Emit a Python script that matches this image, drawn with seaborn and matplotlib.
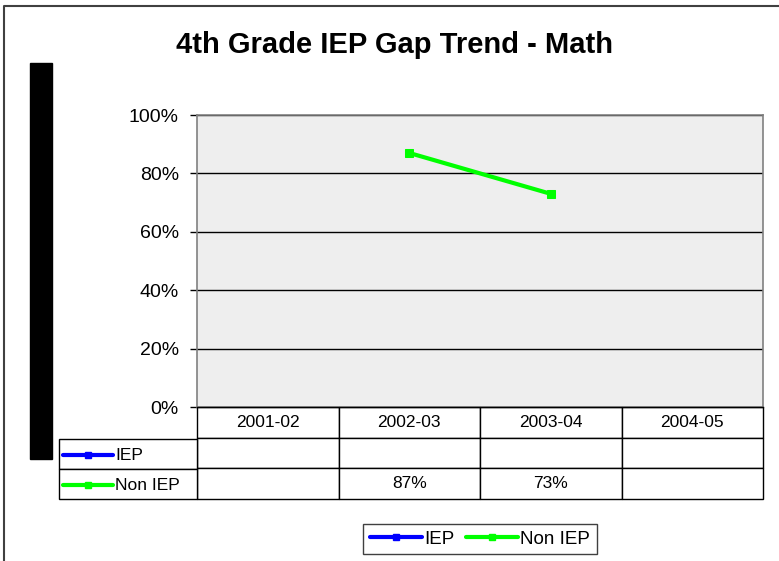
import numpy as np
import pandas as pd
import matplotlib
matplotlib.use('Agg')
import matplotlib.pyplot as plt
import seaborn as sns
from matplotlib.lines import Line2D
from matplotlib.patches import Rectangle
from matplotlib.ticker import PercentFormatter

# data (NaN = no value)
years = ['2001-02', '2002-03', '2003-04', '2004-05']
iep = [np.nan, np.nan, np.nan, np.nan]
non_iep = [np.nan, 87, 73, np.nan]
series_names = ['IEP', 'Non IEP']
series_colors = ['#0000FF', '#00FF00']


def pct(v):
    return '' if np.isnan(v) else '{:.0f}%'.format(v)


def main():
    sns.set_style('white')
    plt.rcParams['font.family'] = ['Liberation Sans', 'DejaVu Sans']
    plt.rcParams['text.color'] = 'black'
    plt.rcParams['ytick.color'] = 'black'
    plt.rcParams['ytick.labelcolor'] = 'black'

    W, H = 779, 561
    fig = plt.figure(figsize=(W / 100, H / 100), dpi=100)

    # plot area in pixels
    left, right, top, bottom = 197, 763, 115, 407
    pw, ph = right - left, bottom - top
    ax = fig.add_axes([left / W, 1 - bottom / H, pw / W, ph / H])
    ax.set_facecolor('#EEEEEE')

    df = pd.DataFrame({'x': np.arange(len(years)), 'IEP': iep, 'Non IEP': non_iep})
    for name, col in zip(series_names, series_colors):
        if df[name].notna().any():
            sns.lineplot(data=df, x='x', y=name, color=col, lw=3, marker='s',
                         markersize=6, markeredgecolor=col, ax=ax, legend=False)

    ax.set_xlim(-0.5, len(years) - 0.5)
    ax.set_ylim(0, 100)
    ax.set_yticks([0, 20, 40, 60, 80, 100])
    ax.yaxis.set_major_formatter(PercentFormatter(decimals=0))
    ax.set_xticks([])
    ax.set_xlabel('')
    ax.set_ylabel('')
    ax.yaxis.grid(True, color='black', lw=1)
    ax.xaxis.grid(False)
    ax.tick_params(axis='y', left=True, length=5, width=1, color='black',
                   labelcolor='black', labelsize=14, pad=8)
    for s in ['left', 'top', 'right']:
        ax.spines[s].set_color('#808080')
        ax.spines[s].set_linewidth(1.2)
    ax.spines['bottom'].set_color('black')
    ax.spines['bottom'].set_linewidth(1)

    # data table under the plot: header + values
    th = 92 / ph
    tbl = ax.table(cellText=[[pct(v) for v in iep], [pct(v) for v in non_iep]],
                   colLabels=years, cellLoc='center', colLoc='center',
                   bbox=[0, -th, 1, th])
    tbl.auto_set_font_size(False)
    tbl.set_fontsize(12.5)
    for cell in tbl.get_celld().values():
        cell.set_edgecolor('black')
        cell.set_linewidth(1)
        cell.get_text().set_color('black')

    # row header column (series names with their legend keys)
    tleft = 59
    rh = 60 / ph
    lab = ax.table(cellText=[[''], ['']], cellLoc='left',
                   bbox=[(tleft - left) / pw, -th, (left - tleft) / pw, rh])
    for cell in lab.get_celld().values():
        cell.set_edgecolor('black')
        cell.set_linewidth(1)

    row_y = [455, 485]
    for name, col, yy in zip(series_names, series_colors, row_y):
        fig.add_artist(Line2D([63 / W, 113 / W], [1 - yy / H, 1 - yy / H], color=col,
                              lw=3, transform=fig.transFigure))
        fig.add_artist(Line2D([88 / W], [1 - yy / H], color=col, marker='s', ms=5,
                              transform=fig.transFigure))
        fig.text(115 / W, 1 - yy / H, name, fontsize=12.5, ha='left', va='center')

    # bottom legend
    handles = [Line2D([], [], color=c, lw=3, marker='s', ms=5) for c in series_colors]
    leg = fig.legend(handles, series_names, loc='center',
                     bbox_to_anchor=(480 / W, 1 - 539 / H), ncol=2, frameon=True,
                     fancybox=False, edgecolor='#404040', fontsize=13.5,
                     handlelength=2.8, columnspacing=0.6, handletextpad=0.1,
                     borderpad=0.35, framealpha=1)
    leg.get_frame().set_linewidth(1)

    fig.text(395 / W, 1 - 45 / H, '4th Grade IEP Gap Trend - Math', fontsize=21,
             fontweight='bold', ha='center', va='center')

    # black bar at left and outer chart border
    fig.add_artist(Rectangle((30 / W, 1 - 459 / H), 22 / W, 396 / H, color='black',
                             transform=fig.transFigure))
    fig.add_artist(Line2D([4 / W, 4 / W, 1], [0, 1 - 6 / H, 1 - 6 / H], color='#404040',
                          lw=1.5, transform=fig.transFigure))

    fig.savefig('out.png', dpi=100)


if __name__ == '__main__':
    main()
